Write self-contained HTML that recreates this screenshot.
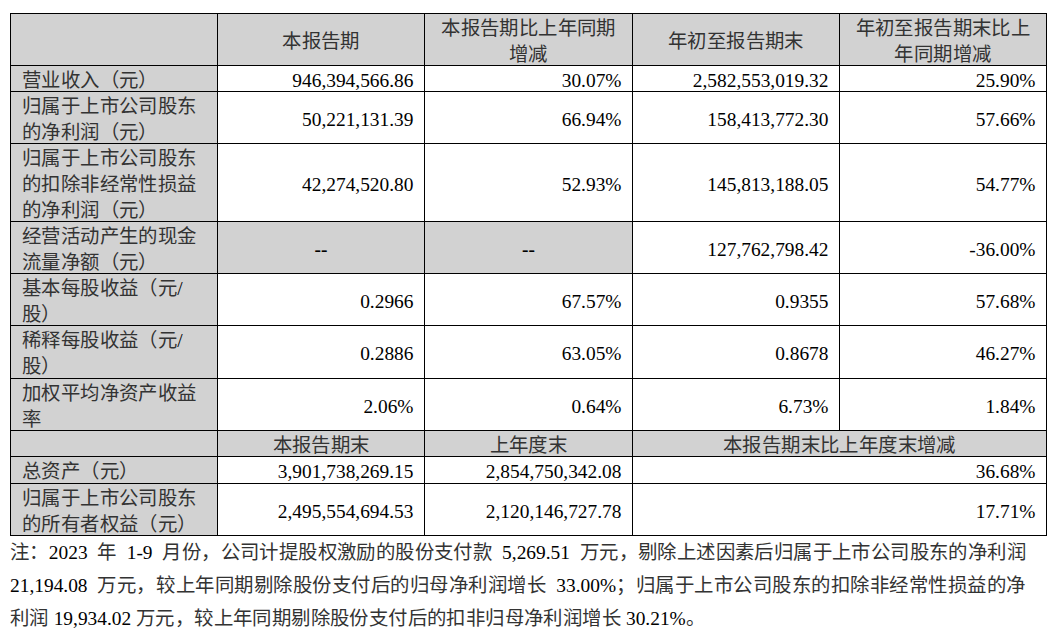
<!DOCTYPE html>
<html lang="zh-CN"><head><meta charset="utf-8"><style>
html,body{margin:0;padding:0;background:#fff;width:1055px;height:635px;overflow:hidden;}
body{position:relative;font-family:"Liberation Serif",serif;font-size:19.4px;line-height:26px;color:#000;}
.r{position:absolute;}
.k{letter-spacing:0.4px;color:#333;}
.l2 .k{letter-spacing:0.52px;}
.b{font-weight:bold;}

.c{position:absolute;box-sizing:border-box;display:flex;align-items:center;white-space:nowrap;padding-top:4px;}
.c.left{justify-content:flex-start;text-align:left;}
.c.right{justify-content:flex-end;text-align:right;}
.c.center{justify-content:center;text-align:center;}
.note{position:absolute;left:10px;top:536px;width:1016px;line-height:33px;}
.jl{text-align:left;white-space:nowrap;}
.ll{text-align:left;white-space:nowrap;}
</style></head><body>
<div class="r" style="left:10px;top:13px;width:1036px;height:52px;background:#d2d2d2"></div><div class="r" style="left:10px;top:13px;width:207px;height:522px;background:#d2d2d2"></div><div class="r" style="left:217px;top:221px;width:415px;height:52px;background:#d2d2d2"></div><div class="r" style="left:10px;top:430px;width:1036px;height:26px;background:#d2d2d2"></div><div class="r" style="left:10px;top:13px;width:1037px;height:1px;background:#000"></div><div class="r" style="left:10px;top:65px;width:1037px;height:1px;background:#000"></div><div class="r" style="left:10px;top:91px;width:1037px;height:1px;background:#000"></div><div class="r" style="left:10px;top:143px;width:1037px;height:1px;background:#000"></div><div class="r" style="left:10px;top:221px;width:1037px;height:1px;background:#000"></div><div class="r" style="left:10px;top:273px;width:1037px;height:1px;background:#000"></div><div class="r" style="left:10px;top:325px;width:1037px;height:1px;background:#000"></div><div class="r" style="left:10px;top:378px;width:1037px;height:1px;background:#000"></div><div class="r" style="left:10px;top:430px;width:1037px;height:1px;background:#000"></div><div class="r" style="left:10px;top:456px;width:1037px;height:1px;background:#000"></div><div class="r" style="left:10px;top:483px;width:1037px;height:1px;background:#000"></div><div class="r" style="left:10px;top:535px;width:1037px;height:1px;background:#000"></div><div class="r" style="left:10px;top:13px;width:1px;height:523px;background:#000"></div><div class="r" style="left:217px;top:13px;width:1px;height:523px;background:#000"></div><div class="r" style="left:424px;top:13px;width:1px;height:523px;background:#000"></div><div class="r" style="left:632px;top:13px;width:1px;height:523px;background:#000"></div><div class="r" style="left:839px;top:13px;width:1px;height:418px;background:#000"></div><div class="r" style="left:1046px;top:13px;width:1px;height:523px;background:#000"></div><div class="c center" style="left:218px;top:14px;width:206px;height:51px;;"><span><span class="k">本报告期</span></span></div><div class="c center" style="left:425px;top:14px;width:207px;height:51px;;"><span><span class="k">本报告期比上年同期</span><br><span class="k">增减</span></span></div><div class="c center" style="left:633px;top:14px;width:206px;height:51px;;"><span><span class="k">年初至报告期末</span></span></div><div class="c center" style="left:840px;top:14px;width:206px;height:51px;;"><span><span class="k">年初至报告期末比上</span><br><span class="k">年同期增减</span></span></div><div class="c left" style="left:11px;top:66px;width:206px;height:25px;padding-left:11px;"><span><span class="k">营业收入（元）</span></span></div><div class="c right" style="left:218px;top:66px;width:206px;height:25px;padding-right:10.5px;"><span><span class="n">946,394,566.86</span></span></div><div class="c right" style="left:425px;top:66px;width:207px;height:25px;padding-right:10.5px;"><span><span class="n">30.07%</span></span></div><div class="c right" style="left:633px;top:66px;width:206px;height:25px;padding-right:10.5px;"><span><span class="n">2,582,553,019.32</span></span></div><div class="c right" style="left:840px;top:66px;width:206px;height:25px;padding-right:10.5px;"><span><span class="n">25.90%</span></span></div><div class="c left" style="left:11px;top:92px;width:206px;height:51px;padding-left:11px;"><span><span class="k">归属于上市公司股东</span><br><span class="k">的净利润（元）</span></span></div><div class="c right" style="left:218px;top:92px;width:206px;height:51px;padding-right:10.5px;"><span><span class="n">50,221,131.39</span></span></div><div class="c right" style="left:425px;top:92px;width:207px;height:51px;padding-right:10.5px;"><span><span class="n">66.94%</span></span></div><div class="c right" style="left:633px;top:92px;width:206px;height:51px;padding-right:10.5px;"><span><span class="n">158,413,772.30</span></span></div><div class="c right" style="left:840px;top:92px;width:206px;height:51px;padding-right:10.5px;"><span><span class="n">57.66%</span></span></div><div class="c left" style="left:11px;top:144px;width:206px;height:77px;padding-left:11px;"><span><span class="k">归属于上市公司股东</span><br><span class="k">的扣除非经常性损益</span><br><span class="k">的净利润（元）</span></span></div><div class="c right" style="left:218px;top:144px;width:206px;height:77px;padding-right:10.5px;"><span><span class="n">42,274,520.80</span></span></div><div class="c right" style="left:425px;top:144px;width:207px;height:77px;padding-right:10.5px;"><span><span class="n">52.93%</span></span></div><div class="c right" style="left:633px;top:144px;width:206px;height:77px;padding-right:10.5px;"><span><span class="n">145,813,188.05</span></span></div><div class="c right" style="left:840px;top:144px;width:206px;height:77px;padding-right:10.5px;"><span><span class="n">54.77%</span></span></div><div class="c left" style="left:11px;top:222px;width:206px;height:51px;padding-left:11px;"><span><span class="k">经营活动产生的现金</span><br><span class="k">流量净额（元）</span></span></div><div class="c center" style="left:218px;top:222px;width:206px;height:51px;;"><span><b><span class="n">--</span></b></span></div><div class="c center" style="left:425px;top:222px;width:207px;height:51px;;"><span><b><span class="n">--</span></b></span></div><div class="c right" style="left:633px;top:222px;width:206px;height:51px;padding-right:10.5px;"><span><span class="n">127,762,798.42</span></span></div><div class="c right" style="left:840px;top:222px;width:206px;height:51px;padding-right:10.5px;"><span><span class="n">-36.00%</span></span></div><div class="c left" style="left:11px;top:274px;width:206px;height:51px;padding-left:11px;"><span><span class="k">基本每股收益（元</span><span class="n">/</span><br><span class="k">股）</span></span></div><div class="c right" style="left:218px;top:274px;width:206px;height:51px;padding-right:10.5px;"><span><span class="n">0.2966</span></span></div><div class="c right" style="left:425px;top:274px;width:207px;height:51px;padding-right:10.5px;"><span><span class="n">67.57%</span></span></div><div class="c right" style="left:633px;top:274px;width:206px;height:51px;padding-right:10.5px;"><span><span class="n">0.9355</span></span></div><div class="c right" style="left:840px;top:274px;width:206px;height:51px;padding-right:10.5px;"><span><span class="n">57.68%</span></span></div><div class="c left" style="left:11px;top:326px;width:206px;height:52px;padding-left:11px;"><span><span class="k">稀释每股收益（元</span><span class="n">/</span><br><span class="k">股）</span></span></div><div class="c right" style="left:218px;top:326px;width:206px;height:52px;padding-right:10.5px;"><span><span class="n">0.2886</span></span></div><div class="c right" style="left:425px;top:326px;width:207px;height:52px;padding-right:10.5px;"><span><span class="n">63.05%</span></span></div><div class="c right" style="left:633px;top:326px;width:206px;height:52px;padding-right:10.5px;"><span><span class="n">0.8678</span></span></div><div class="c right" style="left:840px;top:326px;width:206px;height:52px;padding-right:10.5px;"><span><span class="n">46.27%</span></span></div><div class="c left" style="left:11px;top:379px;width:206px;height:51px;padding-left:11px;"><span><span class="k">加权平均净资产收益</span><br><span class="k">率</span></span></div><div class="c right" style="left:218px;top:379px;width:206px;height:51px;padding-right:10.5px;"><span><span class="n">2.06%</span></span></div><div class="c right" style="left:425px;top:379px;width:207px;height:51px;padding-right:10.5px;"><span><span class="n">0.64%</span></span></div><div class="c right" style="left:633px;top:379px;width:206px;height:51px;padding-right:10.5px;"><span><span class="n">6.73%</span></span></div><div class="c right" style="left:840px;top:379px;width:206px;height:51px;padding-right:10.5px;"><span><span class="n">1.84%</span></span></div><div class="c center" style="left:218px;top:431px;width:206px;height:25px;;"><span><span class="k">本报告期末</span></span></div><div class="c center" style="left:425px;top:431px;width:207px;height:25px;;"><span><span class="k">上年度末</span></span></div><div class="c center" style="left:633px;top:431px;width:413px;height:25px;;"><span><span class="k">本报告期末比上年度末增减</span></span></div><div class="c left" style="left:11px;top:457px;width:206px;height:26px;padding-left:11px;"><span><span class="k">总资产（元）</span></span></div><div class="c right" style="left:218px;top:457px;width:206px;height:26px;padding-right:10.5px;"><span><span class="n">3,901,738,269.15</span></span></div><div class="c right" style="left:425px;top:457px;width:207px;height:26px;padding-right:10.5px;"><span><span class="n">2,854,750,342.08</span></span></div><div class="c right" style="left:633px;top:457px;width:413px;height:26px;padding-right:10.5px;"><span><span class="n">36.68%</span></span></div><div class="c left" style="left:11px;top:484px;width:206px;height:51px;padding-left:11px;"><span><span class="k">归属于上市公司股东</span><br><span class="k">的所有者权益（元）</span></span></div><div class="c right" style="left:218px;top:484px;width:206px;height:51px;padding-right:10.5px;"><span><span class="n">2,495,554,694.53</span></span></div><div class="c right" style="left:425px;top:484px;width:207px;height:51px;padding-right:10.5px;"><span><span class="n">2,120,146,727.78</span></span></div><div class="c right" style="left:633px;top:484px;width:413px;height:51px;padding-right:10.5px;"><span><span class="n">17.71%</span></span></div>
<div class="note"><div class="jl" style="word-spacing:5px"><span class="k">注：</span><span class="n">2023</span> <span class="k">年</span> <span class="n">1-9</span> <span class="k">月份，公司计提股权激励的股份支付款</span> <span class="n">5,269.51</span> <span class="k">万元，剔除上述因素后归属于上市公司股东的净利润</span></div><div class="jl l2" style="word-spacing:5px"><span class="n">21,194.08</span> <span class="k">万元，较上年同期剔除股份支付后的归母净利润增长</span> <span class="n">33.00%</span><span class="k">；归属于上市公司股东的扣除非经常性损益的净</span></div><div class="ll"><span class="k">利润</span> <span class="n">19,934.02</span> <span class="k">万元，较上年同期剔除股份支付后的扣非归母净利润增长</span> <span class="n">30.21%</span><span class="k">。</span></div></div>
</body></html>
